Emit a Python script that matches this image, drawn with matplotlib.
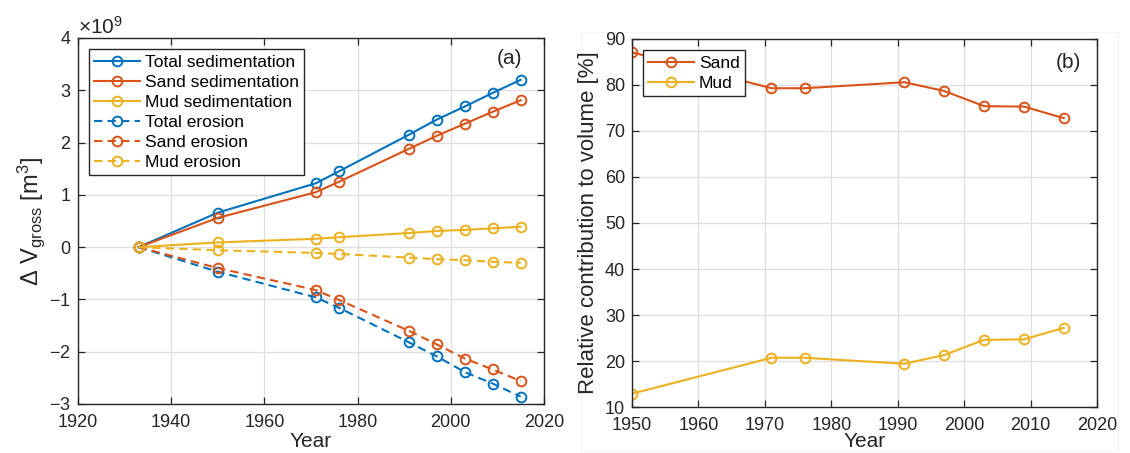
import numpy as np
import matplotlib
matplotlib.use("Agg")
import matplotlib.pyplot as plt
from matplotlib.patches import Rectangle

plt.rcParams['font.family'] = ['Liberation Sans', 'DejaVu Sans']
plt.rcParams['mathtext.fontset'] = 'custom'
plt.rcParams['mathtext.rm'] = 'Liberation Sans'
plt.rcParams['mathtext.it'] = 'Liberation Sans:italic'

# survey years and cumulative gross volume change (x 10^9 m^3)
years = [1933, 1950, 1971, 1976, 1991, 1997, 2003, 2009, 2015]
total_sed = [0, 0.66, 1.22, 1.45, 2.15, 2.44, 2.69, 2.95, 3.20]
sand_sed = [0, 0.56, 1.05, 1.25, 1.88, 2.13, 2.36, 2.59, 2.81]
mud_sed = [0, 0.09, 0.16, 0.19, 0.27, 0.31, 0.33, 0.36, 0.39]
total_ero = [0, -0.47, -0.96, -1.16, -1.82, -2.09, -2.39, -2.61, -2.86]
sand_ero = [0, -0.40, -0.82, -1.01, -1.60, -1.86, -2.13, -2.34, -2.56]
mud_ero = [0, -0.06, -0.11, -0.13, -0.20, -0.23, -0.25, -0.28, -0.30]

# share of sand and mud in the deposited volume (%)
share_years = [1950, 1971, 1976, 1991, 1997, 2003, 2009, 2015]
sand_pct = [87.1, 79.3, 79.3, 80.6, 78.7, 75.4, 75.3, 72.8]
mud_pct = [12.9, 20.7, 20.7, 19.4, 21.3, 24.6, 24.7, 27.2]

blue = '#0072bd'
red = '#d95319'
yellow = '#edb120'
dark = '#262626'
dash = (0, (4, 2.5))


def style(ax):
    ax.grid(True, color='#dfdfdf', lw=0.9)
    ax.set_axisbelow(True)
    ax.tick_params(direction='in', top=True, right=True, length=5, width=0.9,
                   colors=dark, labelsize=13, pad=5)
    ax.tick_params(axis='x', pad=7)
    for s in ax.spines.values():
        s.set_color(dark)
        s.set_linewidth(1.0)


def add_legend(ax):
    leg = ax.legend(loc='upper left', fontsize=12.5, numpoints=1, handlelength=2.6,
                    handletextpad=0.3, labelspacing=0.28, borderpad=0.3,
                    borderaxespad=0.65, fancybox=False, framealpha=1, edgecolor=dark)
    leg.get_frame().set_linewidth(1.0)


fig = plt.figure(figsize=(11.3, 4.53), dpi=100)
W, H = 1130, 453

# faint frame around panel (b)
fig.patches.append(Rectangle((581 / W, (H - 451) / H), 537 / W, 419 / H,
                             transform=fig.transFigure, fill=False,
                             ec='#f4f4f4', lw=0.8, zorder=-1))

mk = dict(marker='o', ms=7, mfc='none', mew=1.4, lw=1.5)

# (a) gross sedimentation / erosion
ax1 = fig.add_axes([78 / W, (H - 404) / H, 466 / W, 366 / H])
style(ax1)
s = 1e9
ax1.plot(years, np.array(total_sed) * s, color=blue, label='Total sedimentation', **mk)
ax1.plot(years, np.array(sand_sed) * s, color=red, label='Sand sedimentation', **mk)
ax1.plot(years, np.array(mud_sed) * s, color=yellow, label='Mud sedimentation', **mk)
ax1.plot(years, np.array(total_ero) * s, color=blue, ls=dash, label='Total erosion', **mk)
ax1.plot(years, np.array(sand_ero) * s, color=red, ls=dash, label='Sand erosion', **mk)
ax1.plot(years, np.array(mud_ero) * s, color=yellow, ls=dash, label='Mud erosion', **mk)
ax1.set_xlim(1920, 2020)
ax1.set_ylim(-3e9, 4e9)
ax1.set_xticks(range(1920, 2021, 20))
ax1.set_yticks(np.arange(-3, 5) * s)
ax1.ticklabel_format(axis='y', style='sci', scilimits=(9, 9), useMathText=True)
ax1.yaxis.get_offset_text().set_fontsize(15)
ax1.yaxis.get_offset_text().set_color(dark)
ax1.set_xlabel('Year', fontsize=15, color=dark, labelpad=1)
ax1.set_ylabel('\u0394 V$_{\\mathregular{gross}}$ [m$^{\\mathregular{3}}$]',
               fontsize=17, color=dark, labelpad=2)
add_legend(ax1)
ax1.text(0.925, 0.943, '(a)', transform=ax1.transAxes, fontsize=15,
         ha='center', va='center', color=dark)

# (b) relative contribution of sand and mud
ax2 = fig.add_axes([632 / W, (H - 407) / H, 465 / W, 368 / H])
style(ax2)
ax2.plot(share_years, sand_pct, color=red, label='Sand', **mk)
ax2.plot(share_years, mud_pct, color=yellow, label='Mud', **mk)
ax2.set_xlim(1950, 2020)
ax2.set_ylim(10, 90)
ax2.set_xticks(range(1950, 2021, 10))
ax2.set_yticks(range(10, 91, 10))
ax2.set_xlabel('Year', fontsize=15, color=dark, labelpad=-1)
ax2.set_ylabel('Relative contribution to volume [%]', fontsize=16, color=dark,
               labelpad=4)
add_legend(ax2)
ax2.text(0.938, 0.937, '(b)', transform=ax2.transAxes, fontsize=15,
         ha='center', va='center', color=dark)

fig.savefig('out.png', dpi=100)
